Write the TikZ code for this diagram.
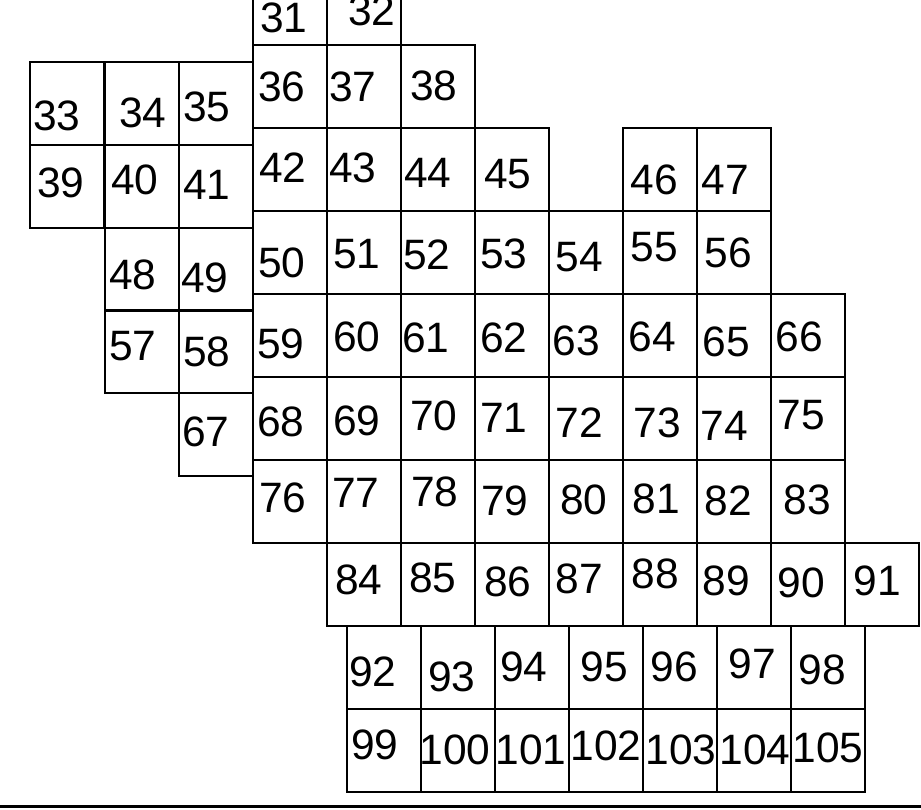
\documentclass[tikz,border=0pt]{standalone}
\usepackage{fontspec}
\setmainfont{Liberation Sans}
\begin{document}
\begin{tikzpicture}[x=1pt,y=-1pt,
  cellline/.style={draw=black,line width=1.9pt},
  num/.style={font=\fontsize{42.5}{42.5}\selectfont, anchor=base, inner sep=0pt}]
\clip (0,0) rectangle (921,809);
\fill[white] (0,0) rectangle (921,809);
\newcommand{\lab}[3]{\node[num] (n#1) at (#2,#3+15.2) {#1};}
% left group
\foreach \yy in {62,145} \foreach \xx in {30,105,179} \draw[cellline] (\xx,\yy) rectangle ++(74,83);
\foreach \yy in {228,310} \foreach \xx in {105,179} \draw[cellline] (\xx,\yy) rectangle ++(74,83);
\draw[cellline] (179,393) rectangle ++(74,83);
% main grid
\foreach \xx in {253,327} \draw[cellline] (\xx,-38) rectangle ++(74,83);
\foreach \xx in {253,327,401} \draw[cellline] (\xx,45) rectangle ++(74,83);
\foreach \xx in {253,327,401,475,623,697} \draw[cellline] (\xx,128) rectangle ++(74,83);
\foreach \xx in {253,327,...,697} \draw[cellline] (\xx,211) rectangle ++(74,83);
\foreach \yy in {294,377,460} \foreach \xx in {253,327,...,771} \draw[cellline] (\xx,\yy) rectangle ++(74,83);
\foreach \xx in {327,401,...,845} \draw[cellline] (\xx,543) rectangle ++(74,83);
\foreach \yy in {626,709} \foreach \xx in {347,421,...,791} \draw[cellline] (\xx,\yy) rectangle ++(74,83);
% bottom rule
\draw[line width=3pt] (0,806) -- (921,806);
% labels
\lab{31}{284}{17}
\lab{32}{372}{10}
\lab{33}{57}{115}
\lab{34}{143}{112}
\lab{35}{207}{106}
\lab{36}{282}{86}
\lab{37}{353}{86}
\lab{38}{434}{85}
\lab{39}{61}{182}
\lab{40}{135}{179}
\lab{41}{207}{184}
\lab{42}{283}{167}
\lab{43}{353}{167}
\lab{44}{428}{172}
\lab{45}{508}{173}
\lab{46}{654}{179}
\lab{47}{725}{179}
\lab{48}{133}{274}
\lab{49}{205}{277}
\lab{50}{282}{262}
\lab{51}{357}{253}
\lab{52}{427}{254}
\lab{53}{504}{253}
\lab{54}{579}{256}
\lab{55}{654}{246}
\lab{56}{728}{252}
\lab{57}{133}{345}
\lab{58}{207}{351}
\lab{59}{281}{343}
\lab{60}{357}{336}
\lab{61}{426}{337}
\lab{62}{504}{337}
\lab{63}{576}{340}
\lab{64}{652}{336}
\lab{65}{726}{341}
\lab{66}{799}{336}
\lab{67}{206}{431}
\lab{68}{281}{421}
\lab{69}{357}{420}
\lab{70}{434}{415}
\lab{71}{504}{417}
\lab{72}{579}{422}
\lab{73}{657}{422}
\lab{74}{724}{425}
\lab{75}{801}{414}
\lab{76}{283}{497}
\lab{77}{356}{492}
\lab{78}{435}{491}
\lab{79}{505}{500}
\lab{80}{584}{499}
\lab{81}{656}{498}
\lab{82}{728}{500}
\lab{83}{807}{499}
\lab{84}{359}{579}
\lab{85}{433}{577}
\lab{86}{508}{581}
\lab{87}{579}{578}
\lab{88}{655}{573}
\lab{89}{726}{580}
\lab{90}{801}{582}
\lab{91}{877}{580}
\lab{92}{373}{671}
\lab{93}{452}{676}
\lab{94}{524}{666}
\lab{95}{604}{666}
\lab{96}{674}{666}
\lab{97}{752}{663}
\lab{98}{822}{669}
\lab{99}{375}{744}
\lab{100}{455}{749}
\lab{101}{531}{749}
\lab{102}{606}{745}
\lab{103}{681}{749}
\lab{104}{755}{749}
\lab{105}{828}{747}
\end{tikzpicture}
\end{document}
